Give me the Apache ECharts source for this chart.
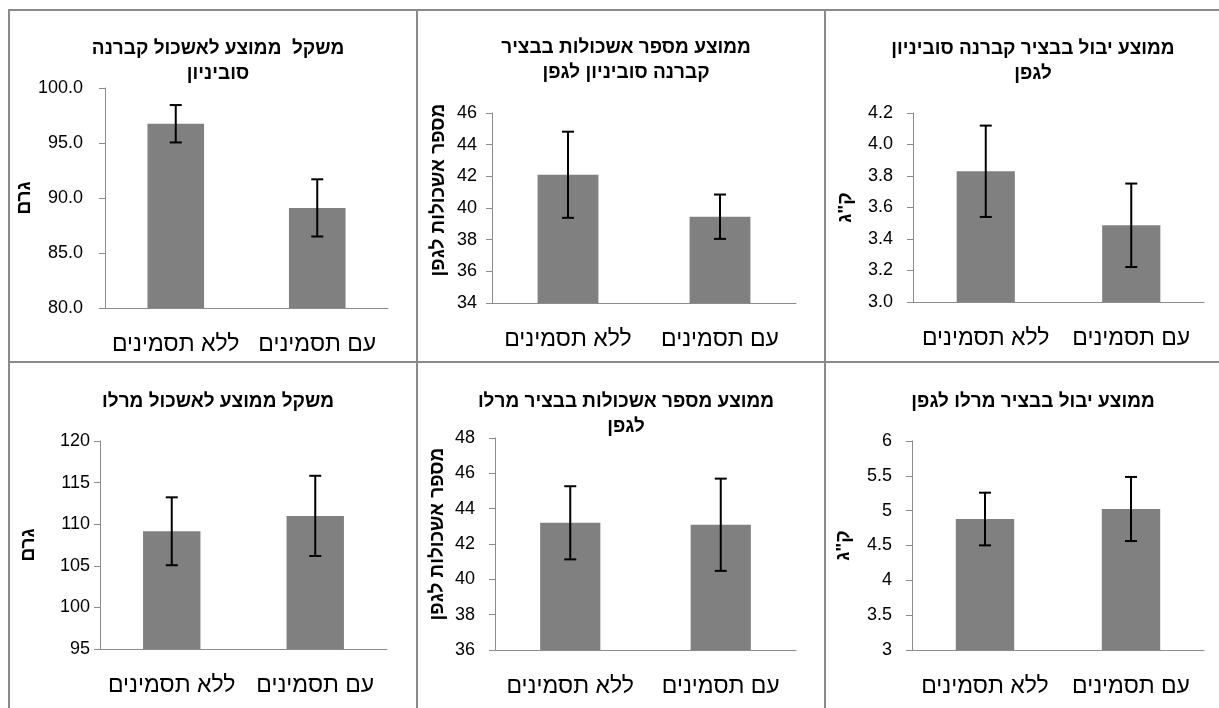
<!DOCTYPE html>
<html>
<head>
<meta charset="utf-8">
<script src="https://cdn.jsdelivr.net/npm/echarts@6/dist/echarts.min.js"></script>
<style>
  html, body { margin: 0; padding: 0; background: #fff; }
  #chart { width: 1219px; height: 708px; }
</style>
</head>
<body>
<div id="chart"></div>
<script>
  // קטגוריות
  const categories = ['ללא תסמינים', 'עם תסמינים'];

  const titles = [
    'משקל  ממוצע לאשכול קברנה\nסוביניון',
    'ממוצע מספר אשכולות בבציר\nקברנה סוביניון לגפן',
    'ממוצע יבול בבציר קברנה סוביניון\nלגפן',
    'משקל ממוצע לאשכול מרלו',
    'ממוצע מספר אשכולות בבציר מרלו\nלגפן',
    'ממוצע יבול בבציר מרלו לגפן'
  ];
  const yNames = ['גרם', 'מספר אשכולות לגפן', 'ק"ג', 'גרם', 'מספר אשכולות לגפן', 'ק"ג'];

  // ממוצעים
  const cabWeight = [96.75, 89.1];
  const cabClusters = [42.1, 39.45];
  const cabYield = [3.83, 3.487];
  const merWeight = [109.15, 111.0];
  const merClusters = [43.2, 43.09];
  const merYield = [4.88, 5.024];

  // סטיות (שגיאה)
  const cabWeightErr = [1.7, 2.6];
  const cabClustersErr = [2.72, 1.4];
  const cabYieldErr = [0.29, 0.265];
  const merWeightErr = [4.08, 4.82];
  const merClustersErr = [2.07, 2.61];
  const merYieldErr = [0.378, 0.46];

  // צירים
  const yMin = [80, 34, 3.0, 95, 36, 3];
  const yMax = [100, 46, 4.2, 120, 48, 6];
  const yStep = [5, 2, 0.2, 5, 2, 0.5];
  const yDecimals = [1, 0, 1, 0, 0, null];

  const means = [cabWeight, cabClusters, cabYield, merWeight, merClusters, merYield];
  const errs = [cabWeightErr, cabClustersErr, cabYieldErr, merWeightErr, merClustersErr, merYieldErr];

  const font = '"Liberation Sans", "DejaVu Sans", sans-serif';
  const chart = echarts.init(document.getElementById('chart'));

  const grids = [
    { left: 105, top: 88, width: 283, height: 220 },
    { left: 492, top: 113, width: 304, height: 190 },
    { left: 913, top: 113, width: 291, height: 189 },
    { left: 100, top: 441, width: 287, height: 208 },
    { left: 495, top: 438, width: 301, height: 212 },
    { left: 912, top: 441, width: 292, height: 209 }
  ];
  const labelMargin = [22, 15, 20, 10, 20, 20];
  const nameGap = [67, 44, 58, 62, 48, 59];
  const nameShift = [0, 36, 0, 0, 20, 0];
  const titleX = [213, 621, 1028, 213, 621, 1028];
  const titleY = [31, 30, 31, 384, 384, 384];

  const axisGray = '#8c8c8c';

  const option = {
    animation: false,
    title: titles.map((t, i) => ({
      text: t,
      left: titleX[i],
      top: titleY[i],
      textAlign: 'center',
      textStyle: { fontFamily: font, fontWeight: 'bold', fontSize: 19, lineHeight: 25, color: '#000' }
    })),
    grid: grids,
    xAxis: grids.map((g, i) => ({
      type: 'category',
      gridIndex: i,
      data: categories,
      axisLine: { lineStyle: { color: axisGray, width: 1 } },
      axisTick: { length: 7, lineStyle: { color: axisGray } },
      axisLabel: { interval: 0, fontFamily: font, fontSize: 23, color: '#000', margin: 25 }
    })),
    yAxis: grids.map((g, i) => ({
      type: 'value',
      gridIndex: i,
      min: yMin[i],
      max: yMax[i],
      interval: yStep[i],
      name: yNames[i],
      nameLocation: 'middle',
      nameRotate: 90,
      nameGap: nameGap[i],
      nameTextStyle: {
        fontFamily: font, fontWeight: 'bold', fontSize: 19, color: '#000',
        padding: [0, 0, 0, nameShift[i]]
      },
      splitLine: { show: false },
      axisLine: { show: true, lineStyle: { color: axisGray, width: 1 } },
      axisTick: { show: true, length: 6, lineStyle: { color: axisGray } },
      axisLabel: {
        fontFamily: font, fontSize: 18, color: '#000', margin: labelMargin[i],
        formatter: v => yDecimals[i] == null ? String(+v.toFixed(2)) : v.toFixed(yDecimals[i])
      }
    })),
    series: [],
    graphic: [
      { type: 'line', shape: { x1: 9, y1: 10, x2: 1219, y2: 10 }, style: { stroke: '#8a8a8a', lineWidth: 2 } },
      { type: 'line', shape: { x1: 9, y1: 9, x2: 9, y2: 708 }, style: { stroke: '#8a8a8a', lineWidth: 2 } },
      { type: 'line', shape: { x1: 417, y1: 9, x2: 417, y2: 708 }, style: { stroke: '#8a8a8a', lineWidth: 2 } },
      { type: 'line', shape: { x1: 825, y1: 9, x2: 825, y2: 708 }, style: { stroke: '#8a8a8a', lineWidth: 2 } },
      { type: 'line', shape: { x1: 9, y1: 362, x2: 1219, y2: 362 }, style: { stroke: '#8a8a8a', lineWidth: 2 } }
    ]
  };

  means.forEach((m, i) => {
    option.series.push({
      type: 'bar',
      xAxisIndex: i,
      yAxisIndex: i,
      data: m,
      barWidth: '40%',
      itemStyle: { color: '#808080' }
    });
    option.series.push({
      type: 'custom',
      xAxisIndex: i,
      yAxisIndex: i,
      data: m.map((v, k) => [k, v + errs[i][k], v - errs[i][k]]),
      encode: { x: 0, y: [1, 2] },
      z: 10,
      renderItem: (params, api) => {
        const hi = api.coord([api.value(0), api.value(1)]);
        const lo = api.coord([api.value(0), api.value(2)]);
        const w = 6;
        const st = { stroke: '#000', lineWidth: 2 };
        return {
          type: 'group',
          children: [
            { type: 'line', shape: { x1: hi[0], y1: hi[1], x2: lo[0], y2: lo[1] }, style: st },
            { type: 'line', shape: { x1: hi[0] - w, y1: hi[1], x2: hi[0] + w, y2: hi[1] }, style: st },
            { type: 'line', shape: { x1: lo[0] - w, y1: lo[1], x2: lo[0] + w, y2: lo[1] }, style: st }
          ]
        };
      }
    });
  });

  chart.setOption(option);
</script>
</body>
</html>
